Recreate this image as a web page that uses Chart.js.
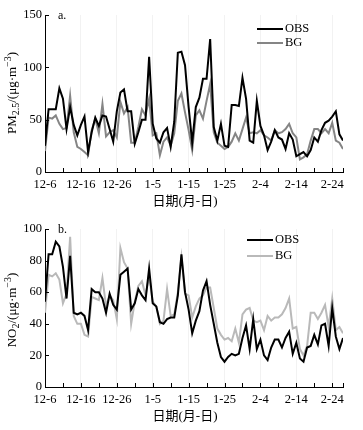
<!DOCTYPE html>
<html>
<head>
<meta charset="utf-8">
<script src="https://cdn.jsdelivr.net/npm/chart.js@4.4.1/dist/chart.umd.min.js"></script>
<style>
  html, body { margin: 0; padding: 0; background: #fff; }
  canvas { display: block; }
</style>
</head>
<body>
<canvas id="pmChart" width="363" height="215"></canvas>
<canvas id="no2Chart" width="363" height="215"></canvas>
<script>
  // day 0 = 12-6, one value per day up to 2-27
  const tickLabels = ['12-6', '12-16', '12-26', '1-5', '1-15', '1-25', '2-4', '2-14', '2-24'];
  const lastDay = 83;

  const pmObs = [25, 60, 60, 60, 80, 70, 41, 62, 45, 35,
    45, 53, 19, 38, 52, 44, 54, 53, 41, 29,
    58, 76, 79, 58, 58, 27, 38, 50, 50, 110,
    46, 32, 28, 38, 42, 24, 48, 114, 115, 102,
    62, 28, 62, 71, 89, 89, 127, 43, 30, 46,
    25, 24, 64, 64, 63, 90, 70, 30, 28, 68,
    44, 35, 21, 29, 40, 33, 31, 22, 37, 31,
    15, 17, 19, 15, 21, 33, 29, 40, 47, 49,
    53, 58, 36, 30];
  const pmBg = [20, 52, 51, 54, 46, 41, 42, 73, 38, 24,
    22, 19, 16, 40, 51, 37, 65, 34, 38, 40,
    33, 67, 56, 62, 28, 28, 43, 60, 54, 70,
    35, 37, 16, 29, 33, 25, 37, 68, 75, 57,
    40, 21, 54, 59, 51, 68, 84, 38, 28, 25,
    22, 24, 29, 37, 30, 41, 52, 37, 38, 37,
    40, 35, 33, 30, 40, 37, 38, 41, 46, 37,
    33, 12, 14, 17, 30, 41, 41, 37, 41, 37,
    47, 30, 28, 22];
  const no2Obs = [54, 84, 84, 92, 89, 76, 56, 83, 47, 46,
    47, 45, 36, 62, 60, 60, 56, 47, 59, 52,
    49, 71, 73, 75, 49, 53, 62, 58, 55, 75,
    53, 51, 41, 40, 43, 44, 44, 58, 84, 60,
    49, 34, 42, 48, 61, 67, 52, 40, 28, 19,
    16, 19, 21, 20, 21, 31, 39, 24, 43, 24,
    30, 20, 17, 25, 30, 30, 25, 31, 35, 21,
    28, 18, 16, 25, 26, 33, 27, 39, 40, 26,
    50, 32, 24, 31];
  const no2Bg = [47, 71, 70, 72, 68, 53, 59, 95, 45, 40,
    40, 33, 32, 57, 56, 55, 69, 51, 58, 55,
    43, 88, 79, 75, 40, 54, 64, 67, 58, 70,
    54, 51, 40, 42, 62, 45, 46, 60, 82, 59,
    58, 44, 51, 56, 58, 63, 63, 50, 37, 33,
    30, 31, 29, 37, 28, 46, 49, 50, 42, 41,
    42, 36, 45, 42, 44, 44, 46, 50, 56, 37,
    38, 24, 20, 26, 47, 47, 43, 47, 52, 38,
    56, 36, 38, 34];

  const pmTicks = [0, 50, 100, 150];
  const no2Ticks = [0, 20, 40, 60, 80, 100];

  const FONT = '"Liberation Serif", "Times New Roman", "Noto Sans CJK SC", serif';

  Chart.defaults.font.family = FONT;
  Chart.defaults.font.size = 12;
  Chart.defaults.color = '#000';

  function toPoints(values) {
    return values.map(function (v, i) {
      return { x: i, y: v };
    });
  }

  function drawPieces(ctx, pieces, x, y) {
    let cx = x;
    pieces.forEach(function (p) {
      ctx.font = p.size + 'px ' + FONT;
      ctx.fillText(p.text, cx, y + (p.dy || 0));
      cx += ctx.measureText(p.text).width;
    });
  }

  function piecesWidth(ctx, pieces) {
    let w = 0;
    pieces.forEach(function (p) {
      ctx.font = p.size + 'px ' + FONT;
      w += ctx.measureText(p.text).width;
    });
    return w;
  }

  const decoPlugin = {
    id: 'deco',
    afterDraw(chart, args, opts) {
      const ctx = chart.ctx;
      const xs = chart.scales.x;
      const ys = chart.scales.y;
      const area = chart.chartArea;
      ctx.save();

      // ticks pointing into the plot
      ctx.strokeStyle = '#000';
      ctx.lineWidth = 1;
      ctx.beginPath();
      xs.ticks.forEach(function (t) {
        const px = Math.round(xs.getPixelForValue(t.value)) + 0.5;
        ctx.moveTo(px, area.bottom);
        ctx.lineTo(px, area.bottom - 4);
      });
      ys.ticks.forEach(function (t) {
        const py = Math.round(ys.getPixelForValue(t.value)) + 0.5;
        ctx.moveTo(area.left, py);
        ctx.lineTo(area.left + 4, py);
      });
      ctx.stroke();

      ctx.fillStyle = '#000';
      ctx.textBaseline = 'middle';
      ctx.textAlign = 'left';

      // panel letter
      ctx.font = '12px ' + FONT;
      ctx.fillText(opts.panel, area.left + 13, area.top + 1);

      // legend
      chart.data.datasets.forEach(function (ds, i) {
        const ly = opts.legendY + i * opts.legendGap;
        ctx.strokeStyle = ds.borderColor;
        ctx.lineWidth = ds.borderWidth;
        ctx.beginPath();
        ctx.moveTo(opts.legendX, ly);
        ctx.lineTo(opts.legendX + 26, ly);
        ctx.stroke();
        ctx.font = '12.5px ' + FONT;
        ctx.fillText(ds.label, opts.legendX + 28, ly);
      });

      // x title
      ctx.textAlign = 'center';
      ctx.font = '13px ' + FONT;
      ctx.fillText('日期(月-日)', 185, 202);

      // y title, rotated
      ctx.textAlign = 'left';
      const w = piecesWidth(ctx, opts.yTitle);
      ctx.translate(13, opts.yTitleY);
      ctx.rotate(-Math.PI / 2);
      drawPieces(ctx, opts.yTitle, -w / 2, 0);

      ctx.restore();
    }
  };

  function makeChart(id, obs, bg, bgColor, yMax, yTicks, deco, topPad) {
    new Chart(document.getElementById(id), {
      type: 'line',
      data: {
        datasets: [
          {
            label: 'OBS',
            data: toPoints(obs),
            borderColor: '#000',
            borderWidth: 2,
            pointRadius: 0,
            tension: 0,
            order: 1
          },
          {
            label: 'BG',
            data: toPoints(bg),
            borderColor: bgColor,
            borderWidth: 2,
            pointRadius: 0,
            tension: 0,
            order: 2
          }
        ]
      },
      options: {
        responsive: false,
        animation: false,
        devicePixelRatio: 1,
        layout: { padding: { top: topPad, right: 20, left: 0, bottom: 0 } },
        plugins: {
          legend: { display: false },
          tooltip: { enabled: false },
          deco: deco
        },
        scales: {
          x: {
            type: 'linear',
            min: 0,
            max: lastDay,
            afterBuildTicks: function (s) {
              const ticks = [];
              for (let v = 0; v <= lastDay; v += 5) {
                ticks.push({ value: v });
              }
              ticks.push({ value: lastDay });
              s.ticks = ticks;
            },
            afterFit: function (s) {
              s.height = 43;
            },
            ticks: {
              autoSkip: false,
              maxRotation: 0,
              padding: 5,
              font: { size: 12.5 },
              callback: function (v) {
                return v % 10 === 0 ? tickLabels[v / 10] : '';
              }
            },
            grid: {
              drawTicks: false,
              color: function (c) {
                return c.tick && c.tick.value % 10 === 0 && c.tick.value > 0 ? 'rgba(0,0,0,0.05)' : 'rgba(0,0,0,0)';
              }
            },
            border: { display: true, color: '#000', width: 1 }
          },
          y: {
            min: 0,
            max: yMax,
            afterBuildTicks: function (s) {
              s.ticks = yTicks.map(function (v) {
                return { value: v };
              });
            },
            afterFit: function (s) {
              s.width = 45;
            },
            ticks: { padding: 3, font: { size: 12.5 } },
            grid: { display: false, drawTicks: false },
            border: { display: true, color: '#000', width: 1 }
          }
        }
      },
      plugins: [decoPlugin]
    });
  }

  makeChart('pmChart', pmObs, pmBg, '#858585', 150, pmTicks, {
    panel: 'a.',
    legendX: 257,
    legendY: 29,
    legendGap: 14,
    yTitleY: 93,
    yTitle: [
      { text: 'PM', size: 13 },
      { text: '2.5', size: 10, dy: 3 },
      { text: '/(μg·m', size: 13 },
      { text: '−3', size: 10, dy: -5 },
      { text: ')', size: 13 }
    ]
  }, 15);

  makeChart('no2Chart', no2Obs, no2Bg, '#b9b9b9', 100, no2Ticks, {
    panel: 'b.',
    legendX: 247,
    legendY: 25,
    legendGap: 16,
    yTitleY: 95,
    yTitle: [
      { text: 'NO', size: 13 },
      { text: '2', size: 10, dy: 3 },
      { text: '/(μg·m', size: 13 },
      { text: '−3', size: 10, dy: -5 },
      { text: ')', size: 13 }
    ]
  }, 14);
</script>
</body>
</html>
